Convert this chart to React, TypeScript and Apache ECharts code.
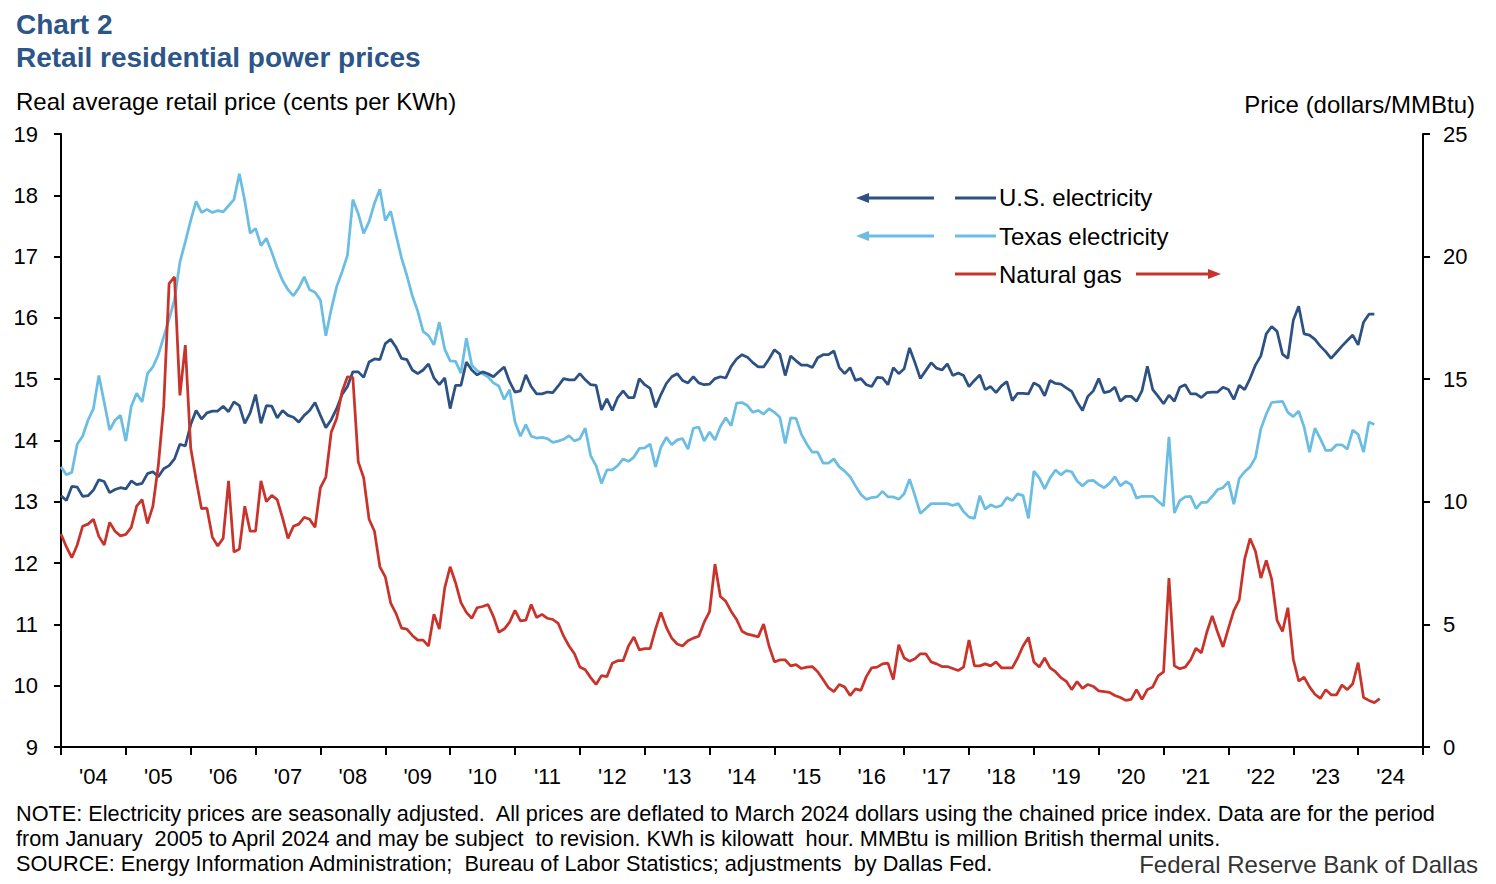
import React, { useEffect, useRef } from "react";
import * as echarts from "echarts";

const yearLabels = ["'04","'05","'06","'07","'08","'09","'10","'11","'12","'13","'14","'15","'16","'17","'18","'19","'20","'21","'22","'23","'24"];

// Monthly, January 2004 onward (cents per KWh)
const usElectricity = [
13.10,13.02,13.25,13.24,13.09,13.10,13.19,13.36,13.33,13.15,13.20,13.23,
13.21,13.34,13.28,13.30,13.46,13.49,13.41,13.54,13.59,13.70,13.94,13.91,
14.26,14.49,14.35,14.45,14.48,14.48,14.56,14.47,14.63,14.57,14.28,14.45,
14.75,14.28,14.57,14.56,14.37,14.49,14.41,14.38,14.30,14.41,14.49,14.62,
14.41,14.21,14.34,14.52,14.75,14.88,15.12,15.12,15.03,15.28,15.33,15.32,
15.58,15.65,15.52,15.34,15.32,15.15,15.09,15.15,15.25,15.02,14.91,15.02,
14.52,14.90,14.90,15.28,15.15,15.07,15.12,15.09,15.04,15.12,15.20,14.96,
14.79,14.81,15.07,14.88,14.76,14.76,14.79,14.78,14.89,15.01,14.99,14.99,
15.09,14.99,14.91,14.90,14.50,14.68,14.49,14.70,14.81,14.70,14.70,15.01,
14.91,14.85,14.54,14.75,14.93,15.04,15.09,14.98,14.94,15.04,14.94,14.91,
14.92,15.01,15.04,15.02,15.21,15.33,15.40,15.36,15.27,15.20,15.20,15.33,
15.48,15.41,15.06,15.38,15.30,15.23,15.23,15.19,15.35,15.40,15.40,15.46,
15.19,15.09,15.19,14.98,15.01,14.91,14.88,15.03,15.02,14.91,15.19,15.09,
15.17,15.51,15.27,15.01,15.14,15.27,15.18,15.15,15.25,15.06,15.10,15.06,
14.88,14.98,15.07,14.83,14.88,14.78,14.89,14.96,14.65,14.77,14.77,14.76,
14.94,14.89,14.73,14.98,14.93,14.92,14.86,14.80,14.63,14.49,14.72,14.81,
15.01,14.78,14.80,14.87,14.64,14.72,14.72,14.64,14.81,15.21,14.83,14.72,
14.60,14.74,14.64,14.87,14.91,14.76,14.76,14.70,14.78,14.79,14.79,14.87,
14.83,14.67,14.90,14.83,15.01,15.23,15.38,15.74,15.86,15.78,15.41,15.34,
15.96,16.19,15.74,15.72,15.65,15.54,15.45,15.34,15.44,15.54,15.63,15.72,
15.56,15.93,16.06,16.06
];

const texasElectricity = [
13.57,13.44,13.48,13.94,14.07,14.33,14.52,15.06,14.62,14.17,14.33,14.41,
13.99,14.56,14.77,14.63,15.09,15.20,15.40,15.69,15.98,16.30,16.91,17.24,
17.59,17.90,17.72,17.77,17.72,17.75,17.73,17.83,17.93,18.35,17.91,17.38,
17.46,17.18,17.30,17.07,16.82,16.61,16.46,16.36,16.49,16.67,16.46,16.42,
16.29,15.71,16.14,16.51,16.75,17.02,17.93,17.70,17.38,17.57,17.87,18.10,
17.59,17.74,17.35,16.98,16.69,16.36,16.11,15.78,15.71,15.56,15.93,15.49,
15.30,15.29,15.10,15.67,15.23,15.14,15.09,15.04,14.94,14.89,14.67,14.83,
14.30,14.07,14.26,14.07,14.04,14.05,14.03,13.97,13.99,14.02,14.08,13.99,
14.03,14.20,13.75,13.59,13.30,13.52,13.52,13.59,13.70,13.66,13.73,13.87,
13.88,13.94,13.57,13.89,14.05,13.93,14.01,14.03,13.86,14.20,14.22,13.99,
14.14,14.01,14.23,14.37,14.24,14.61,14.62,14.57,14.46,14.49,14.43,14.52,
14.46,14.38,13.95,14.37,14.36,14.10,13.94,13.81,13.81,13.63,13.63,13.70,
13.57,13.50,13.41,13.26,13.12,13.04,13.07,13.08,13.17,13.08,13.08,13.04,
13.13,13.37,13.10,12.81,12.89,12.97,12.97,12.97,12.97,12.94,12.97,12.84,
12.75,12.73,13.10,12.88,12.95,12.91,12.94,13.07,13.02,13.13,13.10,12.73,
13.50,13.39,13.21,13.39,13.52,13.44,13.51,13.49,13.34,13.26,13.34,13.35,
13.28,13.23,13.30,13.41,13.26,13.33,13.28,13.06,13.09,13.09,13.09,13.01,
12.93,14.06,12.82,13.02,13.08,13.09,12.89,12.99,12.99,13.09,13.20,13.23,
13.33,12.96,13.38,13.49,13.57,13.72,14.19,14.43,14.62,14.63,14.64,14.46,
14.39,14.48,14.22,13.81,14.20,14.03,13.84,13.84,13.93,13.93,13.86,14.17,
14.10,13.81,14.30,14.26
];

// Monthly, January 2004 onward (dollars/MMBtu)
const naturalGas = [
8.69,8.16,7.72,8.24,9.00,9.09,9.29,8.59,8.24,9.16,8.80,8.61,
8.67,8.96,9.82,10.09,9.12,9.82,11.47,13.89,18.90,19.17,14.34,16.39,
12.19,10.90,9.72,9.74,8.56,8.20,8.51,10.85,7.95,8.07,9.82,8.80,
8.80,10.85,10.01,10.26,10.09,9.33,8.51,9.00,9.09,9.37,9.29,8.96,
10.58,11.01,12.84,13.40,14.49,15.10,15.07,11.63,10.98,9.29,8.80,7.35,
6.94,5.87,5.44,4.85,4.81,4.55,4.36,4.36,4.12,5.41,4.81,6.49,
7.35,6.70,5.89,5.49,5.25,5.68,5.73,5.81,5.33,4.68,4.81,5.09,
5.57,5.14,5.17,5.81,5.28,5.41,5.25,5.20,5.04,4.52,4.12,3.80,
3.26,3.15,2.83,2.55,2.91,2.87,3.42,3.52,3.52,4.12,4.49,3.96,
4.01,4.01,4.81,5.49,4.88,4.44,4.20,4.12,4.33,4.44,4.52,5.09,
5.52,7.46,6.14,5.94,5.53,5.20,4.72,4.60,4.55,4.49,5.01,4.12,
3.47,3.55,3.55,3.31,3.36,3.20,3.26,3.28,3.07,2.75,2.42,2.26,
2.55,2.45,2.10,2.37,2.31,2.87,3.23,3.26,3.39,3.42,2.75,4.17,
3.63,3.50,3.60,3.80,3.80,3.47,3.39,3.28,3.28,3.20,3.12,3.26,
4.36,3.31,3.31,3.39,3.31,3.47,3.23,3.23,3.23,3.63,4.12,4.47,
3.47,3.26,3.63,3.23,3.07,2.83,2.68,2.34,2.67,2.39,2.55,2.47,
2.29,2.26,2.23,2.10,2.02,1.90,1.94,2.34,1.94,2.34,2.45,2.90,
3.06,6.89,3.31,3.19,3.26,3.55,4.03,3.84,4.68,5.35,4.68,4.08,
4.84,5.56,6.00,7.66,8.50,7.98,6.89,7.61,6.85,5.16,4.71,5.68,
3.58,2.69,2.85,2.45,2.15,1.98,2.34,2.13,2.13,2.53,2.34,2.58,
3.44,2.02,1.90,1.81,1.97
];

const US_COLOR = "#2C5182";
const TX_COLOR = "#6BBDE3";
const GAS_COLOR = "#C8342B";
const TITLE_COLOR = "#2C5588";
const FONT = "'Liberation Sans', Arial, sans-serif";

function toPoints(arr: number[]) {
  return arr.map((v, i) => [i, v]);
}

export default function App() {
  const ref = useRef<HTMLDivElement>(null);
  useEffect(() => {
    if (!ref.current) return;
    const chart = echarts.init(ref.current, undefined, { renderer: "svg" });
    const txt = (x: number, y: number, text: string, size: number, opts: any = {}) => ({
      type: "text",
      x,
      y,
      silent: true,
      style: {
        text,
        fontSize: size,
        fontFamily: FONT,
        fill: opts.fill || "#000",
        fontWeight: opts.bold ? "bold" : "normal",
        textAlign: opts.align || "left",
        textVerticalAlign: "middle",
      },
    });
    const legendRow = (y: number, color: string) => [
      { type: "line", shape: { x1: 955, y1: y, x2: 996, y2: y }, style: { stroke: color, lineWidth: 3 } },
    ];
    const leftArrow = (y: number, color: string) => [
      { type: "line", shape: { x1: 866, y1: y, x2: 934, y2: y }, style: { stroke: color, lineWidth: 3 } },
      { type: "polygon", shape: { points: [[856, y], [869, y - 5], [869, y + 5]] }, style: { fill: color } },
    ];
    const rightArrow = (y: number, color: string) => [
      { type: "line", shape: { x1: 1136, y1: y, x2: 1212, y2: y }, style: { stroke: color, lineWidth: 3 } },
      { type: "polygon", shape: { points: [[1221, y], [1208, y - 5], [1208, y + 5]] }, style: { fill: color } },
    ];
    chart.setOption({
      animation: false,
      backgroundColor: "#fff",
      grid: { left: 61, right: 73, top: 134, bottom: 137, containLabel: false },
      xAxis: [
        {
          type: "value",
          min: 0,
          max: 252,
          interval: 12,
          position: "bottom",
          axisLine: { show: true, onZero: false, lineStyle: { color: "#000", width: 2 } },
          axisTick: { show: true, length: 8, lineStyle: { color: "#000", width: 2 } },
          axisLabel: { show: false },
          splitLine: { show: false },
        },
        {
          type: "category",
          data: yearLabels,
          boundaryGap: true,
          position: "bottom",
          axisLine: { show: false },
          axisTick: { show: false },
          axisLabel: { show: true, color: "#000", fontSize: 22, fontFamily: FONT, margin: 18 },
          splitLine: { show: false },
        },
      ],
      yAxis: [
        {
          type: "value",
          min: 9,
          max: 19,
          interval: 1,
          position: "left",
          axisLine: { show: true, lineStyle: { color: "#000", width: 2 } },
          axisTick: { show: true, length: 7, lineStyle: { color: "#000", width: 2 } },
          axisLabel: { color: "#000", fontSize: 22, fontFamily: FONT, margin: 23 },
          splitLine: { show: false },
        },
        {
          type: "value",
          min: 0,
          max: 25,
          interval: 5,
          position: "right",
          axisLine: { show: true, lineStyle: { color: "#000", width: 2 } },
          axisTick: { show: true, length: 7, lineStyle: { color: "#000", width: 2 } },
          axisLabel: { color: "#000", fontSize: 22, fontFamily: FONT, margin: 20 },
          splitLine: { show: false },
        },
      ],
      series: [
        {
          name: "Texas electricity",
          type: "line",
          xAxisIndex: 0,
          yAxisIndex: 0,
          data: toPoints(texasElectricity),
          showSymbol: false,
          lineStyle: { color: TX_COLOR, width: 2.75 },
          itemStyle: { color: TX_COLOR },
        },
        {
          name: "U.S. electricity",
          type: "line",
          xAxisIndex: 0,
          yAxisIndex: 0,
          data: toPoints(usElectricity),
          showSymbol: false,
          lineStyle: { color: US_COLOR, width: 2.75 },
          itemStyle: { color: US_COLOR },
        },
        {
          name: "Natural gas",
          type: "line",
          xAxisIndex: 0,
          yAxisIndex: 1,
          data: toPoints(naturalGas),
          showSymbol: false,
          lineStyle: { color: GAS_COLOR, width: 2.75 },
          itemStyle: { color: GAS_COLOR },
        },
      ],
      graphic: [
        txt(16, 24, "Chart 2", 28, { bold: true, fill: TITLE_COLOR }),
        txt(16, 57, "Retail residential power prices", 28, { bold: true, fill: TITLE_COLOR }),
        txt(16, 101, "Real average retail price (cents per KWh)", 24, {}),
        txt(1475, 104, "Price (dollars/MMBtu)", 24, { align: "right" }),
        ...leftArrow(198, US_COLOR),
        ...legendRow(198, US_COLOR),
        txt(999, 197, "U.S. electricity", 24, {}),
        ...leftArrow(236, TX_COLOR),
        ...legendRow(236, TX_COLOR),
        txt(999, 236, "Texas electricity", 24, {}),
        ...legendRow(274, GAS_COLOR),
        txt(999, 274, "Natural gas", 24, {}),
        ...rightArrow(274, GAS_COLOR),
        txt(16, 813, "NOTE: Electricity prices are seasonally adjusted.  All prices are deflated to March 2024 dollars using the chained price index. Data are for the period", 21.7, {}),
        txt(16, 838, "from January  2005 to April 2024 and may be subject  to revision. KWh is kilowatt  hour. MMBtu is million British thermal units.", 21.7, {}),
        txt(16, 863, "SOURCE: Energy Information Administration;  Bureau of Labor Statistics; adjustments  by Dallas Fed.", 21.7, {}),
        txt(1478, 864, "Federal Reserve Bank of Dallas", 24, { align: "right", fill: "#333" }),
      ],
    });
    return () => chart.dispose();
  }, []);
  return (
    <div
      ref={ref}
      style={{ position: "absolute", left: 0, top: 0, width: 1496, height: 884 }}
    />
  );
}
